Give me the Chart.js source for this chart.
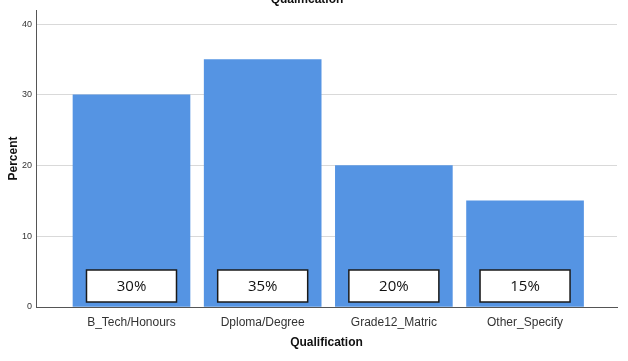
<!DOCTYPE html>
<html>
<head>
<meta charset="utf-8">
<script src="https://cdn.jsdelivr.net/npm/chart.js@4.4.0/dist/chart.umd.min.js"></script>
<style>
  html, body { margin: 0; padding: 0; background: #fff; }
  #wrap { width: 628px; height: 361px; }
</style>
</head>
<body>
<div id="wrap"><canvas id="chart" width="628" height="361"></canvas></div>
<script>
    // Chart data
    const categories = ['B_Tech/Honours', 'Dploma/Degree', 'Grade12_Matric', 'Other_Specify'];
    const percents = [30, 35, 20, 15];
    const yTicks = [0, 10, 20, 30, 40];

    const barColor = '#5594e3';

    // titulo cortado arriba, como en la imagen original
    const topTitle = {
        id: 'topTitle',
        afterDraw(chart) {
            const ctx = chart.ctx;
            ctx.save();
            ctx.font = 'bold 12px "Liberation Sans", Arial, sans-serif';
            ctx.fillStyle = '#111';
            ctx.textAlign = 'center';
            ctx.textBaseline = 'middle';
            ctx.fillText('Qualification', 307, 0);
            ctx.restore();
        }
    };

    // cajas blancas con el porcentaje dentro de cada barra
    const boxLabels = {
        id: 'boxLabels',
        afterDatasetsDraw(chart) {
            const ctx = chart.ctx;
            const y0 = chart.scales.y.getPixelForValue(0);
            const meta = chart.getDatasetMeta(0);
            ctx.save();
            meta.data.forEach((bar, i) => {
                const w = 90, h = 32;
                const x = bar.x - w / 2;
                const y = y0 - 5 - h;
                ctx.fillStyle = '#ffffff';
                ctx.fillRect(x, y, w, h);
                ctx.strokeStyle = '#1a1a1a';
                ctx.lineWidth = 1.5;
                ctx.strokeRect(x, y, w, h);
                ctx.fillStyle = '#111';
                ctx.font = '15px "Open Sans", "Noto Sans", sans-serif';
                ctx.textAlign = 'center';
                ctx.textBaseline = 'middle';
                ctx.fillText(percents[i] + '%', bar.x, y + h / 2 + 1);
            });
            ctx.restore();
        }
    };

    new Chart(document.getElementById('chart'), {
        type: 'bar',
        data: {
            datasets: [{
                data: percents.map((v, i) => ({ x: i, y: v })),
                backgroundColor: barColor,
                borderWidth: 0,
                barThickness: 117
            }]
        },
        options: {
            responsive: false,
            animation: false,
            layout: { padding: { top: 10, right: 11, left: 6, bottom: 0 } },
            plugins: {
                legend: { display: false },
                tooltip: { enabled: false }
            },
            scales: {
                x: {
                    type: 'linear',
                    offset: false,
                    min: -0.728,
                    max: 3.701,
                    afterFit: s => { s.height = 54; },
                    afterBuildTicks: s => { s.ticks = categories.map((_, i) => ({ value: i })); },
                    grid: { display: false, drawTicks: false },
                    border: { color: '#555', width: 1 },
                    ticks: {
                        padding: 8,
                        color: '#333',
                        font: { family: '"Liberation Sans", Arial, sans-serif', size: 12 },
                        callback: v => categories[v] || ''
                    },
                    title: {
                        display: true,
                        text: 'Qualification',
                        color: '#111',
                        font: { family: '"Liberation Sans", Arial, sans-serif', size: 12, weight: 'bold' },
                        padding: { top: 8, bottom: 11 }
                    }
                },
                y: {
                    min: 0,
                    max: 42,
                    afterFit: s => { s.width = 30; },
                    afterBuildTicks: s => { s.ticks = yTicks.map(v => ({ value: v })); },
                    grid: { color: '#d9d9d9', drawTicks: false },
                    border: { color: '#555', width: 1 },
                    ticks: {
                        padding: 4,
                        color: '#333',
                        font: { family: '"Liberation Sans", Arial, sans-serif', size: 9 }
                    },
                    title: {
                        display: true,
                        text: 'Percent',
                        color: '#111',
                        font: { family: '"Liberation Sans", Arial, sans-serif', size: 12, weight: 'bold' },
                        padding: { top: 0, bottom: 0 }
                    }
                }
            }
        },
        plugins: [topTitle, boxLabels]
    });
</script>
</body>
</html>
